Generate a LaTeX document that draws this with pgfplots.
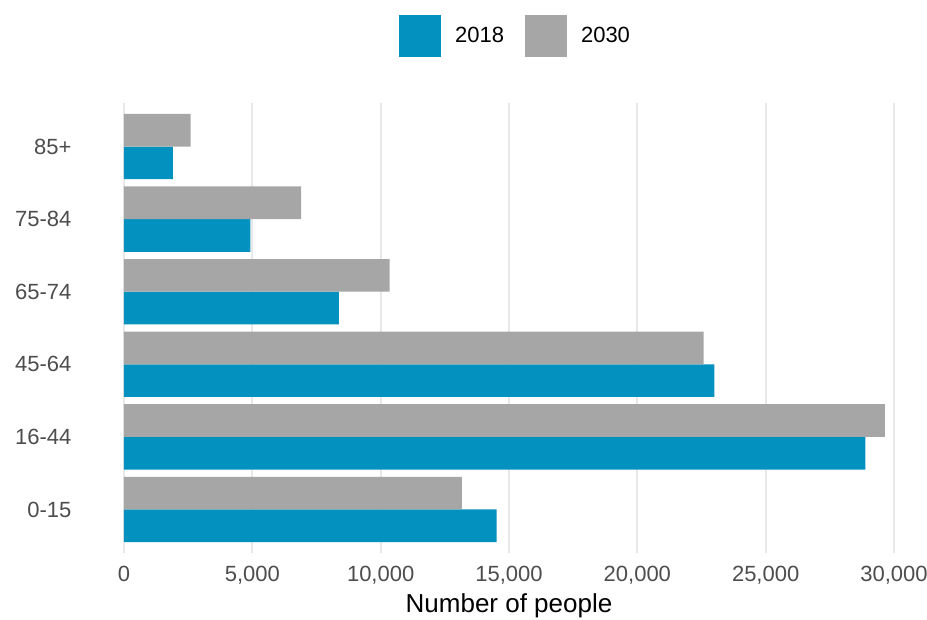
\documentclass[border=0pt]{standalone}
\usepackage{pgfplots}
\pgfplotsset{compat=1.18}
\usepackage{fontspec}
\setmainfont{Liberation Sans}
\definecolor{cblue}{RGB}{3,145,191}
\definecolor{cgray}{RGB}{166,166,166}
\definecolor{cgrid}{RGB}{232,232,232}
\definecolor{ctick}{RGB}{77,77,77}
\begin{document}
\begin{tikzpicture}
\useasboundingbox (0,0) rectangle (927pt,619pt);
\begin{axis}[
  at={(124pt,66pt)}, anchor=south west,
  width=770pt, height=450pt, scale only axis,
  xmin=0, xmax=30000, ymin=-0.6, ymax=5.6,
  axis line style={draw=none},
  major tick length=0pt,
  xtick={0,5000,10000,15000,20000,25000,30000},
  ytick={0,1,2,3,4,5},
  yticklabels={0-15,16-44,45-64,65-74,75-84,85+},
  xmajorgrids, grid style={cgrid, line width=2pt},
  /pgf/number format/1000 sep={,},
  /pgf/number format/assume math mode=true,
  scaled x ticks=false,
  tick label style={font=\fontsize{22}{25}\selectfont, text=ctick},
  xticklabel style={yshift=-10pt},
  yticklabel style={xshift=-49pt, anchor=east},
  xlabel={Number of people},
  xlabel style={font=\fontsize{26}{29}\selectfont, text=black, yshift=-2pt},
  legend columns=2,
  legend style={at={(0.5085,1.149)}, anchor=center, draw=none, fill=none,
    font=\fontsize{22}{25}\selectfont,
    /tikz/every even column/.append style={column sep=19pt},
    /tikz/every odd column/.append style={column sep=12pt}},
  legend image code/.code={\fill[#1] (0pt,-21pt) rectangle (42pt,21pt);},
  legend cell align=left,
]
\addplot[xbar, bar width=0.45, bar shift=-0.225, fill=cblue, draw=none]
  coordinates {(14520,0) (28880,1) (23000,2) (8370,3) (4920,4) (1900,5)};
\addlegendentry{2018}
\addplot[xbar, bar width=0.45, bar shift=0.225, fill=cgray, draw=none]
  coordinates {(13160,0) (29640,1) (22580,2) (10350,3) (6900,4) (2600,5)};
\addlegendentry{2030}
\end{axis}
\end{tikzpicture}
\end{document}
